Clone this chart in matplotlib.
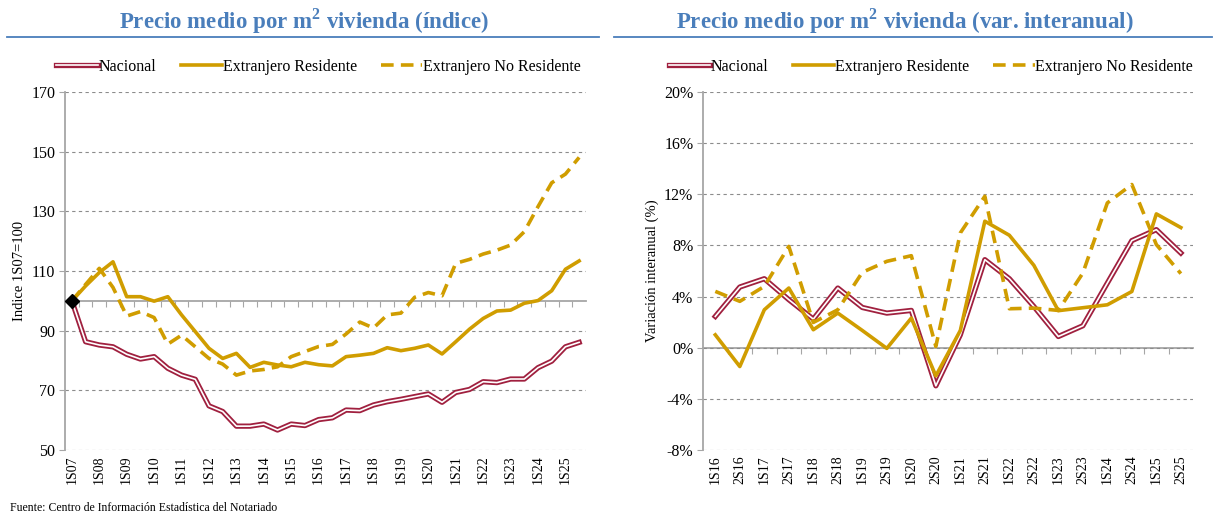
import matplotlib
matplotlib.use('Agg')
import matplotlib.pyplot as plt
import matplotlib.patheffects as pe
from matplotlib.lines import Line2D
import numpy as np

plt.rcParams['font.family'] = ['Liberation Serif', 'DejaVu Serif']
plt.rcParams['mathtext.fontset'] = 'custom'
plt.rcParams['mathtext.rm'] = 'Liberation Serif'
plt.rcParams['mathtext.bf'] = 'Liberation Serif:bold'

# semestres 1S07 .. 2S25 (indice 1S07=100)
periodos_idx = ['%dS%02d' % (s, y) for y in range(7, 26) for s in (1, 2)]
nacional_idx = [100, 86.3, 85.2, 84.6, 82.1, 80.5, 81.3, 77.4, 75.1, 73.7,
                64.8, 62.9, 58.0, 58.0, 58.7, 56.7, 58.7, 58.2, 60.2, 60.8,
                63.4, 63.2, 65.1, 66.2, 67.0, 67.9, 68.8, 66.0, 69.3, 70.3,
                72.9, 72.6, 73.8, 73.8, 77.6, 79.8, 84.6, 86.1]
residente_idx = [100, 105, 109.5, 113.1, 101.4, 101.4, 99.9, 101.4, 95.3, 89.7,
                 84.1, 80.7, 82.4, 77.7, 79.4, 78.5, 77.9, 79.4, 78.6, 78.2,
                 81.3, 81.8, 82.4, 84.3, 83.3, 84.1, 85.2, 82.2, 86.3, 90.5,
                 94.1, 96.6, 96.9, 99.2, 100.1, 103.4, 110.6, 113.4]
no_residente_idx = [100, 105.5, 110.9, 104.5, 94.9, 96.4, 94.4, 85.5, 88.5, 84.6,
                    80.7, 78.8, 75.1, 76.5, 77.0, 77.9, 81.3, 83.0, 84.7, 85.4,
                    88.9, 92.9, 90.9, 95.3, 95.9, 101.2, 102.8, 101.7, 112.6, 113.9,
                    115.7, 117.0, 118.7, 123.2, 131.6, 139.6, 142.5, 148.1]

# variacion interanual 1S16 .. 2S25 (%)
periodos_var = ['%dS%02d' % (s, y) for y in range(16, 26) for s in (1, 2)]
nacional_var = [2.45, 4.75, 5.4, 3.76, 2.24, 4.67, 3.15, 2.71, 2.92, -2.98,
                1.01, 6.89, 5.4, 3.23, 0.88, 1.72, 5.06, 8.38, 9.24, 7.41]
residente_var = [1.01, -1.47, 2.97, 4.67, 1.41, 2.71, 1.35, -0.05, 2.32, -2.2,
                 1.35, 9.9, 8.8, 6.45, 2.9, 3.13, 3.36, 4.4, 10.47, 9.4]
no_residente_var = [4.41, 3.63, 4.8, 7.93, 1.98, 2.97, 5.9, 6.76, 7.2, 0.1,
                    8.98, 11.85, 3.05, 3.1, 2.92, 5.84, 11.33, 12.77, 8.07, 5.8]

granate = '#A0203F'
oro = '#D09D00'
gris = '#A6A6A6'
azul = '#4A7EBB'

fig = plt.figure(figsize=(12.13, 5.15), dpi=100)
ax1 = fig.add_axes([0.0536, 0.1262, 0.4295, 0.695])
ax2 = fig.add_axes([0.5796, 0.1262, 0.404, 0.695])


def series(ax, x, nac, res, nores):
    ax.plot(x, nac, color='white', lw=1.2, label='Nacional', zorder=3,
            path_effects=[pe.Stroke(linewidth=3.8, foreground=granate), pe.Normal()])
    ax.plot(x, res, color=oro, lw=2.6, label='Extranjero Residente', zorder=4)
    ax.plot(x, nores, color=oro, lw=2.6, ls=(0, (3.5, 2)),
            label='Extranjero No Residente', zorder=4)


def estilo(ax, ymin, ymax, ystep, cruce, n, centro_leyenda):
    ax.set_xlim(-0.5, n - 0.5)
    ax.set_ylim(ymin, ymax)
    ax.set_yticks(np.arange(ymin, ymax + ystep / 2, ystep))
    ax.grid(axis='y', color='#8C8C8C', lw=0.8, ls=(0, (3, 3)))
    ax.set_axisbelow(True)
    for s in ('top', 'right', 'bottom'):
        ax.spines[s].set_visible(False)
    ax.spines['left'].set_color(gris)
    ax.spines['left'].set_linewidth(1.3)
    ax.tick_params(axis='y', direction='out', length=4, color=gris,
                   labelsize=11.5, pad=3)
    ax.tick_params(axis='x', length=0, labelsize=10, pad=4)
    # eje horizontal que cruza en el valor de referencia
    sec = ax.secondary_xaxis((cruce - ymin) / (ymax - ymin))
    sec.set_xticks(np.arange(0.5, n - 0.5, 1))
    sec.xaxis.set_ticks_position('bottom')
    sec.tick_params(direction='out', length=4, color=gris,
                    labelbottom=False, labeltop=False)
    sec.spines['bottom'].set_color(gris)
    sec.spines['bottom'].set_linewidth(1.3)
    leg = ax.legend(loc='center', bbox_to_anchor=(centro_leyenda, 1.07), ncol=3,
                    frameon=False, fontsize=11.5, handlelength=2.6,
                    handletextpad=0.05, columnspacing=1.5)
    return leg


# indice
x1 = np.arange(len(periodos_idx))
series(ax1, x1, nacional_idx, residente_idx, no_residente_idx)
ax1.plot(x1[0], nacional_idx[0], marker='D', color='black', ms=7, zorder=5)
estilo(ax1, 50, 170, 20, 100, len(periodos_idx), 0.487)
ax1.set_xticks(x1[::2])
ax1.set_xticklabels(periodos_idx[::2], rotation=90)
ax1.set_ylabel('Indice 1S07=100', fontsize=10.5, labelpad=4)

# variacion interanual
x2 = np.arange(len(periodos_var))
series(ax2, x2, nacional_var, residente_var, no_residente_var)
estilo(ax2, -8, 20, 4, 0, len(periodos_var), 0.465)
ax2.set_xticks(x2)
ax2.set_xticklabels(periodos_var, rotation=90)
ax2.set_yticklabels(['%d%%' % v for v in np.arange(-8, 21, 4)])
ax2.set_ylabel('Variación interanual (%)', fontsize=10.5, labelpad=4)

# titulos
fig.text(0.251, 0.958, r'Precio medio por m$^{\mathbf{2}}$ vivienda (índice)',
         ha='center', va='center', fontsize=16.5, fontweight='bold', color=azul)
fig.text(0.746, 0.958, r'Precio medio por m$^{\mathbf{2}}$ vivienda (var. interanual)',
         ha='center', va='center', fontsize=16.5, fontweight='bold', color=azul)
fig.add_artist(Line2D([0.006, 0.494], [0.928, 0.928], color=azul, lw=1.3))
fig.add_artist(Line2D([0.506, 0.999], [0.928, 0.928], color=azul, lw=1.3))

fig.text(0.008, 0.013, 'Fuente: Centro de Información Estadística del Notariado',
         fontsize=8.5, ha='left', va='center')

fig.savefig('out.png', dpi=100)
